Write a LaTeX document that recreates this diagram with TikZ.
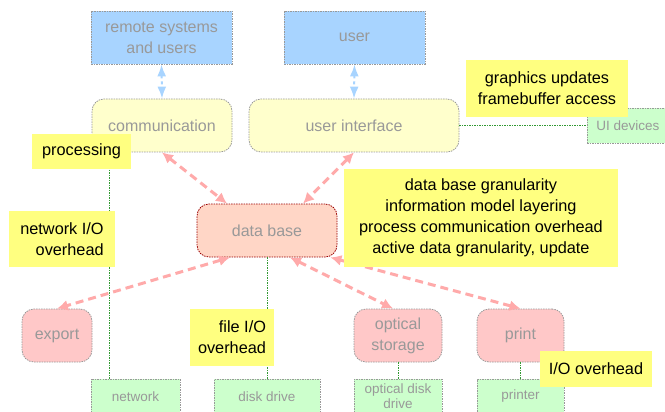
\documentclass[tikz,border=0pt]{standalone}
\usepackage{fontspec}
\setmainfont{Liberation Sans}
\usetikzlibrary{calc,arrows.meta}
\definecolor{sky_blue}{HTML}{A8D4FF}
\definecolor{pale_yellow}{HTML}{FFFFCC}
\definecolor{note_yellow}{HTML}{FFFF80}
\definecolor{salmon}{HTML}{FFD6C6}
\definecolor{pale_pink}{HTML}{FFC8C8}
\definecolor{pale_green}{HTML}{CCFFCC}
\definecolor{link_pink}{HTML}{FFAAAA}
\definecolor{text_grey}{HTML}{999999}
\definecolor{dark_red}{HTML}{990000}
\definecolor{dark_green}{HTML}{339933}

\begin{document}
\begin{tikzpicture}[x=1pt, y=-1pt,
	box/.style={draw=text_grey, dash pattern=on 1.5pt off 1pt, line width=0.8pt, text=text_grey, font=\fontsize{16}{21}\selectfont, align=center, inner sep=0pt},
	actor/.style={box, fill=sky_blue, minimum width=141pt, minimum height=53pt},
	layer/.style={box, fill=pale_yellow, rounded corners=12pt, minimum height=53pt},
	store/.style={box, fill=pale_pink, rounded corners=12pt, minimum height=53pt},
	device/.style={box, fill=pale_green, minimum height=35pt, font=\fontsize{13.5}{15}\selectfont},
	note/.style={fill=note_yellow, text=black, font=\fontsize{16.3}{21}\selectfont, inner sep=0pt},
	flow/.style={link_pink, line width=3pt, dash pattern=on 8pt off 5pt, {Latex[length=11pt,width=11pt]}-{Latex[length=11pt,width=11pt]}},
	io/.style={sky_blue, line width=2pt, dash pattern=on 3pt off 3pt, {Latex[length=12pt,width=9pt]}-{Latex[length=12pt,width=9pt]}},
	wire/.style={dark_green, dash pattern=on 1.5pt off 1pt, line width=0.8pt}]
	\useasboundingbox (0, 0) rectangle (665, 412);
	\clip (0, 0) rectangle (665, 412);
	\node[actor] (remote) at (161.5, 37.5) {remote systems\\and users};
	\node[actor] (user) at (354.5, 37.5) {user};
	\node[layer, minimum width=140pt] (comm) at (162, 125.5) {communication};
	\node[layer, minimum width=210pt] (ui) at (354, 125.5) {user interface};
	\node[box, fill=salmon, draw=dark_red, rounded corners=12pt, minimum width=140pt, minimum height=53pt] (db) at (267, 230.5) {data base};
	\node[store, minimum width=70pt] (export) at (57, 335.5) {export};
	\node[store, minimum width=88pt] (optical) at (398, 335.5) {optical\\storage};
	\node[store, minimum width=87pt] (print) at (520.5, 335.5) {print};
	\node[device, minimum width=89pt] (network) at (135.5, 396.5) {network};
	\node[device, minimum width=106pt] (disk) at (267, 396.5) {disk drive};
	\node[device, minimum width=88pt] (odisk) at (398, 396.5) {optical disk\\drive};
	\node[device, minimum width=87pt] (printer) at (520.5, 396.5) {printer};
	\node[device, minimum width=82pt] (uidev) at (628, 125.5) {UI devices};
	\draw[wire] ([xshift=-53pt]comm.south) -- ([xshift=-26.5pt]network.north);
	\draw[wire] (db.south) -- (disk.north);
	\draw[wire] (optical.south) -- (odisk.north);
	\draw[wire] (print.south) -- (printer.north);
	\draw[wire] (ui.east) -- (uidev.west);
	\draw[io] (remote.south) -- (comm.north);
	\draw[io] (user.south) -- (ui.north);
	\draw[flow] (comm.south) -- ([xshift=-40pt]db.north);
	\draw[flow] (ui.south) -- ([xshift=36pt]db.north);
	\draw[flow] ([xshift=-37pt]db.south) -- (export.north);
	\draw[flow] ([xshift=23pt]db.south) -- ([xshift=-5pt]optical.north);
	\draw[flow] ([xshift=-7pt]db.south east) -- (print.north);
	\node[note, minimum width=99pt, minimum height=35pt] (proc) at (81.5, 151.5) {processing};
	\node[note, minimum width=106pt, minimum height=56pt, align=right] (netio) at (62, 239) {network I/O\\overhead};
	\node[note, minimum width=84pt, minimum height=57pt, align=right] (fileio) at (232, 337.5) {file I/O\\overhead};
	\node[note, minimum width=274pt, minimum height=98pt, align=center] (dbnote) at (481, 218) {data base granularity\\information model layering\\process communication overhead\\active data granularity, update};
	\node[note, minimum width=162pt, minimum height=57pt, align=center] (gfx) at (547, 88.5) {graphics updates\\framebuffer access};
	\node[note, minimum width=112pt, minimum height=36pt] (ionote) at (596, 369) {I/O overhead};
\end{tikzpicture}
\end{document}
